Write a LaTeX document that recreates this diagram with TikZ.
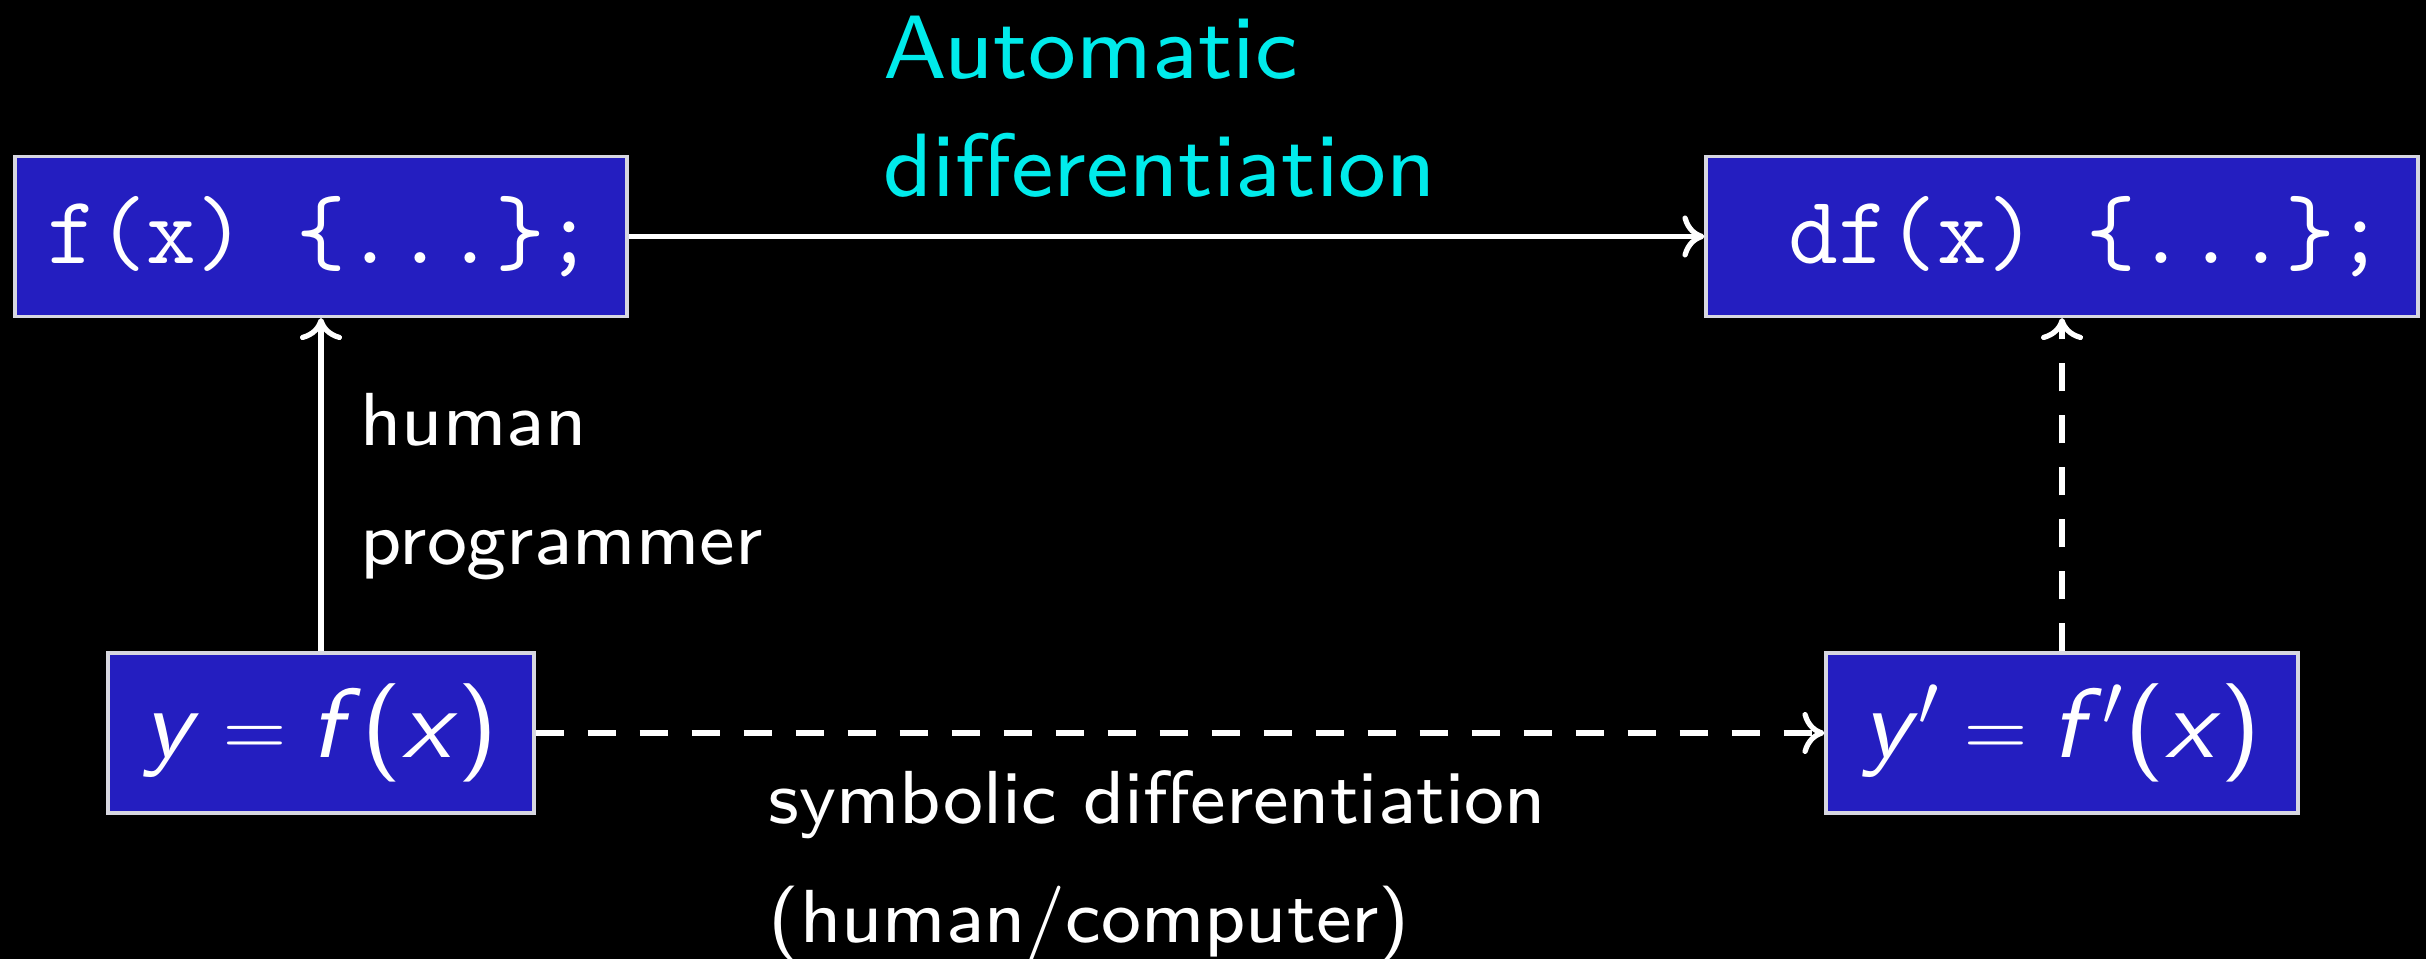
\documentclass[tikz,border=0pt]{standalone}
\usepackage{fontspec}
\usepackage{tikz}
\usetikzlibrary{arrows.meta}
\usetikzlibrary{positioning}
\newfontfamily\lmsanseight{lmsans8-regular.otf}[ItalicFont=lmsans8-oblique.otf]
\definecolor{boxblue}{RGB}{36,30,192}
\definecolor{boxrim}{RGB}{215,215,225}
\definecolor{adcyan}{RGB}{0,235,235}
\newdimen\colDist
\newdimen\rowDist
\colDist=17.41cm
\rowDist=4.965cm
\newcommand{\svar}[1]{\textit{#1}}

\begin{document}
\begin{tikzpicture}[
    box/.style={%
      draw=boxrim,
      line width=0.9pt,
      fill=boxblue,
      text=white,
      rectangle,
      minimum height=1.6cm,
      inner sep=0pt,
    },
    code/.style={%
      font=\fontsize{27.5pt}{33pt}\selectfont\ttfamily,
    },
    formula/.style={%
      font=\fontsize{28pt}{33pt}\selectfont\lmsanseight,
    },
    lbl/.style={%
      text=white,
      align=left,
      inner sep=0pt,
      font=\fontsize{21.4pt}{33.9pt}\selectfont\lmsanseight,
    },
    adlbl/.style={%
      text=adcyan,
      font=\fontsize{25.6pt}{33.6pt}\selectfont\lmsanseight,
    },
    conn/.style={%
      white,
      line width=1.5pt,
      -{To[length=2.2mm,width=4.2mm]},
    },
    dashconn/.style={%
      conn,
      dash pattern=on 2.8mm off 2.4mm,
    },
  ]

    \useasboundingbox [fill=black] (0,0) rectangle (24.26,9.59);

    \node [box, code, minimum width=6.12cm] (fx) at (3.21,7.225) {f(x) \{...\};};
    \path (fx) ++(\colDist,0) node [box, code, minimum width=7.12cm] (dfx) {\ df(x) \{...\};};
    \path (fx) ++(0,-\rowDist) node [box, formula, minimum width=4.26cm] (yfx) {\svar{y}${}={}$\svar{f}(\svar{x})};
    \path (yfx) ++(\colDist,0) node [box, formula, minimum width=4.72cm] (dyfx) {\svar{y}$'={}$\svar{f}$'$(\svar{x})};

    \draw [conn] (fx) -- (dfx) node [lbl, adlbl, anchor=south west, pos=0.2345, yshift=3.65mm] (adtext) {Automatic\\differentiation};
    \draw [conn] (yfx) -- (fx) node [lbl, anchor=north west, pos=0.783, xshift=3.7mm] (hptext) {human\\programmer};
    \draw [dashconn] (yfx) -- (dyfx) node [lbl, anchor=north west, pos=0.179, yshift=-3.5mm] (sdtext) {symbolic differentiation\\(human/computer)};
    \draw [dashconn] (dyfx) -- (dfx);
\end{tikzpicture}
\end{document}
